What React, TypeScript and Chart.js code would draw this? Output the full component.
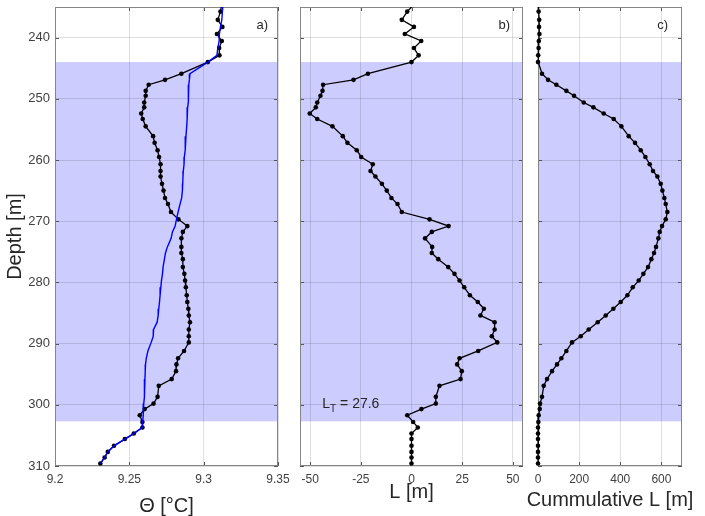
import React, { useEffect, useRef } from 'react';
import { Chart, registerables } from 'chart.js';

Chart.register(...registerables);

const W = 705;
const H = 516;
const FONT = "'Liberation Sans', Arial, Helvetica, sans-serif";

// ---------------- data ----------------
const depth = [
  234.65, 235.75, 237.1, 238.25, 239.4, 240.55, 241.7, 242.9, 244.0, 245.9,
  246.9, 247.7, 248.7, 249.5, 250.6, 251.4, 252.4, 253.3, 254.5, 256.1,
  257.2, 258.4, 259.5, 260.7, 261.8, 262.7, 263.9, 265.0, 266.2, 267.2,
  268.5, 269.7, 270.8, 271.75, 272.8, 274.2, 275.2, 276.2, 277.5, 278.6,
  279.7, 280.8, 282.1, 283.2, 284.3, 285.4, 286.5, 287.7, 288.8, 289.8,
  291.2, 292.4, 293.4, 294.5, 295.8, 296.9, 298.7, 299.8, 300.7, 301.7,
  302.8, 303.7, 304.7, 305.6, 306.7, 307.7, 308.6, 309.6,
];

const thetaObserved = [
  9.312, 9.3113, 9.3095, 9.3126, 9.3089, 9.3122, 9.3104, 9.3106, 9.3028, 9.285,
  9.274, 9.263, 9.261, 9.261, 9.26, 9.26, 9.258, 9.259, 9.261, 9.266,
  9.267, 9.269, 9.27, 9.271, 9.271, 9.271, 9.272, 9.273, 9.274, 9.276,
  9.278, 9.283, 9.289, 9.286, 9.285, 9.285, 9.285, 9.286, 9.286, 9.287,
  9.2875, 9.288, 9.2886, 9.289, 9.2897, 9.29, 9.2908, 9.29, 9.29, 9.29,
  9.2868, 9.2828, 9.2817, 9.2814, 9.2785, 9.2698, 9.269, 9.2663, 9.2603, 9.257,
  9.2588, 9.2588, 9.253, 9.247, 9.2397, 9.2355, 9.2334, 9.2305,
];

const thetaSorted = [
  9.313, 9.3126, 9.3122, 9.3113, 9.3106, 9.3104, 9.3095, 9.3089, 9.3028, 9.2908,
  9.2904, 9.29, 9.2899, 9.2897, 9.2895, 9.2892, 9.289, 9.2888, 9.2886, 9.2881,
  9.2877, 9.2875, 9.287, 9.2868, 9.2863, 9.2861, 9.2859, 9.2857, 9.2852, 9.2841,
  9.2828, 9.2817, 9.2808, 9.279, 9.2781, 9.2756, 9.2743, 9.2736, 9.2727, 9.2723,
  9.2716, 9.2712, 9.2707, 9.2703, 9.2698, 9.2694, 9.2687, 9.2663, 9.2661, 9.2647,
  9.2625, 9.2614, 9.2609, 9.2607, 9.2605, 9.2603, 9.26, 9.2597, 9.2595, 9.2592,
  9.259, 9.2588, 9.253, 9.247, 9.2397, 9.2355, 9.2334, 9.2305,
];

const thorpeL = [
  1.0, -2.1, -4.8, 1.2, -3.3, 4.8, 1.2, 3.5, 0, -21.5,
  -28.6, -43.6, -43.9, -44.9, -46.5, -47.2, -50.2, -46.5, -39.0, -33.9,
  -31.6, -27.0, -24.8, -19.1, -20.2, -17.8, -14.6, -12.2, -9.9, -6.9,
  -4.8, 8.9, 18.3, 10.0, 6.7, 10.2, 10.0, 13.2, 18.1, 21.2,
  23.7, 26.0, 28.8, 32.7, 35.7, 34.0, 41.0, 41.0, 39.6, 42.3,
  32.9, 23.7, 22.5, 24.8, 24.2, 13.8, 12.0, 12.0, 4.9, -2.1,
  0.8, 3.1, 0, 0, 0, 0, 0, 0,
];

const cumulativeL = [
  0, 3, 6, 5, 7, 4, 3, 1, 0, 19.6,
  48.8, 89.3, 137.9, 175.2, 222.2, 269.2, 319.4, 368, 405.3, 441,
  471.7, 499.3, 522, 543, 559.2, 580.3, 596.5, 604.6, 614.3, 620.8,
  628.9, 620.8, 603, 591.6, 585.1, 573.8, 564, 551.1, 534.9, 512.2,
  489.5, 460.4, 434.5, 402, 366.4, 329.1, 290.2, 246.5, 207.6, 165.4,
  137.9, 113.6, 92.5, 68.2, 43.9, 27.7, 19.6, 9.9, 8.3, 3.4,
  1.8, 0, 0, 0, 0, 0, 0, 0,
];

const depthRange = [235, 310];
const depthTicks = [240, 250, 260, 270, 280, 290, 300, 310];
const thetaRange = [9.2, 9.35];
const thetaTicks = [9.2, 9.25, 9.3, 9.35];
const lRange = [-55, 55];
const lTicks = [-50, -25, 0, 25, 50];
const cumRange = [0, 700];
const cumTicks = [0, 200, 400, 600];
const overturnTop = 244.0;
const overturnBottom = 302.7;
const thorpeScaleText = '27.6';
const thorpeNoteAt = { x: -44, y: 300.5 };

// ---------------- plugin ----------------
const decorPlugin = {
  id: 'decor',
  beforeDraw(chart: any, _args: any, opts: any) {
    const { ctx, chartArea: a, scales } = chart;
    const y1 = scales.y.getPixelForValue(opts.shadeFrom);
    const y2 = scales.y.getPixelForValue(opts.shadeTo);
    ctx.save();
    ctx.fillStyle = 'rgb(204,204,255)';
    ctx.fillRect(a.left, y1, a.right - a.left, y2 - y1);
    ctx.restore();
  },
  beforeDatasetsDraw(chart: any) {
    const { ctx, chartArea: a, scales } = chart;
    ctx.save();
    ctx.lineWidth = 1;
    ctx.strokeStyle = '#555555';
    ctx.beginPath();
    const tl = 4;
    scales.x.ticks.forEach((t: any) => {
      const px = Math.round(scales.x.getPixelForValue(t.value)) + 0.5;
      ctx.moveTo(px, a.bottom);
      ctx.lineTo(px, a.bottom - tl);
      ctx.moveTo(px, a.top);
      ctx.lineTo(px, a.top + tl);
    });
    scales.y.ticks.forEach((t: any) => {
      const py = Math.round(scales.y.getPixelForValue(t.value)) + 0.5;
      ctx.moveTo(a.left, py);
      ctx.lineTo(a.left + tl, py);
      ctx.moveTo(a.right, py);
      ctx.lineTo(a.right - tl, py);
    });
    ctx.stroke();
    ctx.strokeStyle = '#858585';
    ctx.strokeRect(a.left + 0.5, a.top + 0.5, a.right - a.left - 1, a.bottom - a.top - 1);
    ctx.restore();
  },
  afterDraw(chart: any, _args: any, opts: any) {
    const { ctx, chartArea: a, scales } = chart;
    ctx.save();
    ctx.fillStyle = '#262626';
    // panel label
    ctx.font = `13px ${FONT}`;
    ctx.textAlign = 'right';
    ctx.textBaseline = 'middle';
    ctx.fillText(opts.label, a.right - opts.labelInset, a.top + 18);
    // x-axis title (drawn here so it is not squeezed to the axis width)
    ctx.font = `20px ${FONT}`;
    ctx.textAlign = 'center';
    ctx.fillText(opts.xTitle, (a.left + a.right) / 2, opts.xTitleY);
    if (opts.note) {
      let x = scales.x.getPixelForValue(thorpeNoteAt.x);
      const y = scales.y.getPixelForValue(thorpeNoteAt.y);
      ctx.textAlign = 'left';
      ctx.textBaseline = 'alphabetic';
      ctx.font = `14px ${FONT}`;
      ctx.fillText('L', x, y);
      x += ctx.measureText('L').width;
      ctx.font = `10px ${FONT}`;
      ctx.fillText('T', x, y + 4);
      x += ctx.measureText('T').width;
      ctx.font = `14px ${FONT}`;
      ctx.fillText(' = ' + thorpeScaleText, x, y);
    }
    ctx.restore();
  },
};

const toXY = (xs: number[]) => xs.map((v, i) => ({ x: v, y: depth[i] }));
const gridColor = 'rgba(38,38,38,0.15)';
const clipBox = { left: 5, top: 0, right: 5, bottom: 5 };

function dotLine(xs: number[]) {
  return {
    data: toXY(xs),
    showLine: true,
    borderColor: '#000000',
    borderWidth: 1.3,
    pointRadius: 2.3,
    pointBackgroundColor: '#000000',
    pointBorderWidth: 0,
    tension: 0,
    clip: clipBox,
  };
}

function buildConfig(p: any) {
  return {
    type: 'scatter',
    data: { datasets: p.datasets },
    options: {
      animation: false,
      responsive: false,
      maintainAspectRatio: false,
      events: [],
      layout: { padding: { left: p.padLeft, right: W - p.right, top: 7, bottom: 0 } },
      plugins: {
        legend: { display: false },
        tooltip: { enabled: false },
        decor: {
          shadeFrom: overturnTop,
          shadeTo: overturnBottom,
          label: p.label,
          labelInset: p.labelInset,
          note: p.note,
          xTitle: p.xTitle,
          xTitleY: p.xTitleY,
        },
      },
      scales: {
        x: {
          type: 'linear',
          min: p.xRange[0],
          max: p.xRange[1],
          afterBuildTicks: (s: any) => {
            s.ticks = p.xTicks.map((v: number) => ({ value: v }));
          },
          afterFit: (s: any) => {
            s.height = 50;
            s.paddingLeft = 0;
            s.paddingRight = 0;
          },
          grid: { color: gridColor, drawTicks: false },
          border: { display: false },
          ticks: {
            autoSkip: false,
            maxRotation: 0,
            padding: 6,
            color: '#404040',
            font: { family: FONT, size: 12 },
            callback: (v: any) => String(v),
          },
          title: { display: false },
        },
        y: {
          type: 'linear',
          reverse: true,
          min: depthRange[0],
          max: depthRange[1],
          afterBuildTicks: (s: any) => {
            s.ticks = depthTicks.map((v) => ({ value: v }));
          },
          afterFit: (s: any) => {
            s.width = p.yWidth;
            s.paddingTop = 0;
            s.paddingBottom = 0;
          },
          grid: { color: gridColor, drawTicks: false },
          border: { display: false },
          ticks: {
            display: p.showY,
            padding: 5,
            color: '#404040',
            font: { family: FONT, size: 13 },
            callback: (v: any) => String(v),
          },
          title: {
            display: p.showY,
            text: 'Depth [m]',
            color: '#262626',
            font: { family: FONT, size: 20, lineHeight: 1 },
            padding: { top: 5, bottom: 0 },
          },
        },
      },
    },
    plugins: [decorPlugin],
  };
}

const panels = [
  {
    padLeft: 0,
    yWidth: 55,
    right: 278,
    showY: true,
    xRange: thetaRange,
    xTicks: thetaTicks,
    xTitle: 'Θ [°C]',
    xTitleY: 506,
    label: 'a)',
    labelInset: 10,
    note: false,
    datasets: [
      {
        data: toXY(thetaSorted),
        showLine: true,
        borderColor: '#0000ff',
        borderWidth: 1.4,
        pointRadius: 0,
        tension: 0,
        clip: clipBox,
      },
      dotLine(thetaObserved),
    ],
  },
  {
    padLeft: 300,
    yWidth: 0,
    right: 523,
    showY: false,
    xRange: lRange,
    xTicks: lTicks,
    xTitle: 'L [m]',
    xTitleY: 492,
    label: 'b)',
    labelInset: 13,
    note: true,
    datasets: [dotLine(thorpeL)],
  },
  {
    padLeft: 538,
    yWidth: 0,
    right: 682,
    showY: false,
    xRange: cumRange,
    xTicks: cumTicks,
    xTitle: 'Cummulative L [m]',
    xTitleY: 500,
    label: 'c)',
    labelInset: 14,
    note: false,
    datasets: [dotLine(cumulativeL)],
  },
];

function Panel({ spec }: { spec: any }) {
  const ref = useRef<HTMLCanvasElement>(null);
  useEffect(() => {
    const chart = new Chart(ref.current as HTMLCanvasElement, buildConfig(spec) as any);
    return () => chart.destroy();
  }, [spec]);
  return (
    <canvas
      ref={ref}
      width={W}
      height={H}
      style={{ position: 'absolute', left: 0, top: 0, width: W, height: H }}
    />
  );
}

export default function App() {
  return (
    <div
      style={{
        position: 'absolute',
        left: 0,
        top: 0,
        width: W,
        height: H,
        background: '#ffffff',
        overflow: 'hidden',
      }}
    >
      {panels.map((p, i) => (
        <Panel key={i} spec={p} />
      ))}
    </div>
  );
}
